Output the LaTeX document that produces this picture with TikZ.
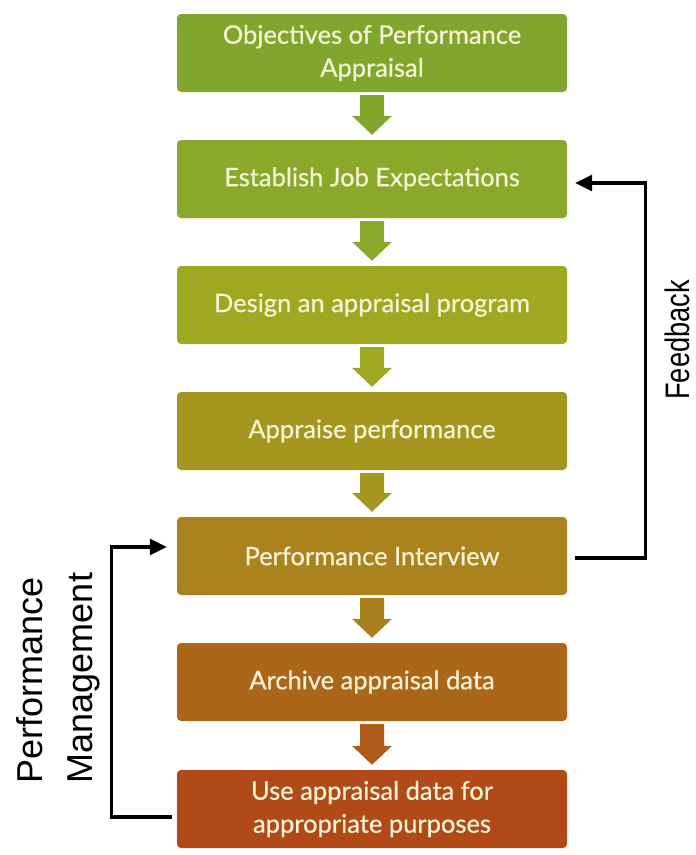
\documentclass[tikz,border=0pt]{standalone}
\usepackage{fontspec}
\setmainfont{Lato}[FakeBold=0.6,AutoFakeBold=0.6]
\newfontfamily\labelfont{Liberation Sans}
\usetikzlibrary{calc,arrows.meta}

% stage colours, green at the top shading to rust at the bottom
\definecolor{stageA}{RGB}{128,166,46}
\definecolor{stageB}{RGB}{138,168,42}
\definecolor{stageC}{RGB}{160,168,34}
\definecolor{stageD}{RGB}{165,150,32}
\definecolor{stageE}{RGB}{170,130,30}
\definecolor{stageF}{RGB}{172,102,26}
\definecolor{stageG}{RGB}{178,74,24}
\definecolor{stagetext}{RGB}{246,244,212}

% block arrow from the bottom of one stage to the top of the next
\newcommand\stagearrow[3]{%
  \fill[#3] ($(#1.south)+(-12,3)$) -- ($(#1.south)+(12,3)$)
    -- ($(#2.north)+(12,-24)$) -- ($(#2.north)+(20,-24)$)
    -- ($(#2.north)+(0,-5)$)
    -- ($(#2.north)+(-20,-24)$) -- ($(#2.north)+(-12,-24)$) -- cycle;}

\begin{document}
\begin{tikzpicture}[x=1pt,y=-1pt,
  stagebox/.style={rectangle, rounded corners=4pt, minimum width=390pt,
    minimum height=78pt, inner sep=0pt, text=stagetext, align=center,
    font=\fontsize{25.5}{33}\selectfont\bfseries},
  loopline/.style={draw=black, line width=3.2pt, -{Triangle[length=17pt,width=16pt]}},
  looplabel/.style={font=\labelfont\fontsize{36}{50}\selectfont, inner sep=0pt}]
\useasboundingbox (0,0) rectangle (696,855);

\node[stagebox, fill=stageA] (b1) at (372,53) {Objectives of Performance\\Appraisal};
\node[stagebox, fill=stageB] (b2) at (372,179) {Establish Job Expectations};
\node[stagebox, fill=stageC] (b3) at (372,305) {Design an appraisal program};
\node[stagebox, fill=stageD] (b4) at (372,431) {Appraise performance};
\node[stagebox, fill=stageE] (b5) at (372,556) {Performance Interview};
\node[stagebox, fill=stageF] (b6) at (372,682) {Archive appraisal data};
\node[stagebox, fill=stageG] (b7) at (372,809) {Use appraisal data for\\appropriate purposes};

\stagearrow{b1}{b2}{stageA}
\stagearrow{b2}{b3}{stageB}
\stagearrow{b3}{b4}{stageC}
\stagearrow{b4}{b5}{stageD}
\stagearrow{b5}{b6}{stageE!90!stageF}
\stagearrow{b6}{b7}{stageF!60!stageG}

% feedback loop on the right
\draw[loopline] ($(b5.east)+(8,2)$) -- ++(70,0) |- ($(b2.east)+(8,4)$);
\node[looplabel, font=\labelfont\fontsize{34}{40}\selectfont, rotate=90, xscale=0.8] (fb) at (677,340) {Feedback};

% performance management loop on the left
\draw[loopline] ($(b7.west)+(-5,8)$) -- ++(-60,0) |- ($(b5.west)+(-10,-9)$);
\node[looplabel, rotate=90, align=left] (pm) at (58,678) {Performance\\Management};
\end{tikzpicture}
\end{document}
